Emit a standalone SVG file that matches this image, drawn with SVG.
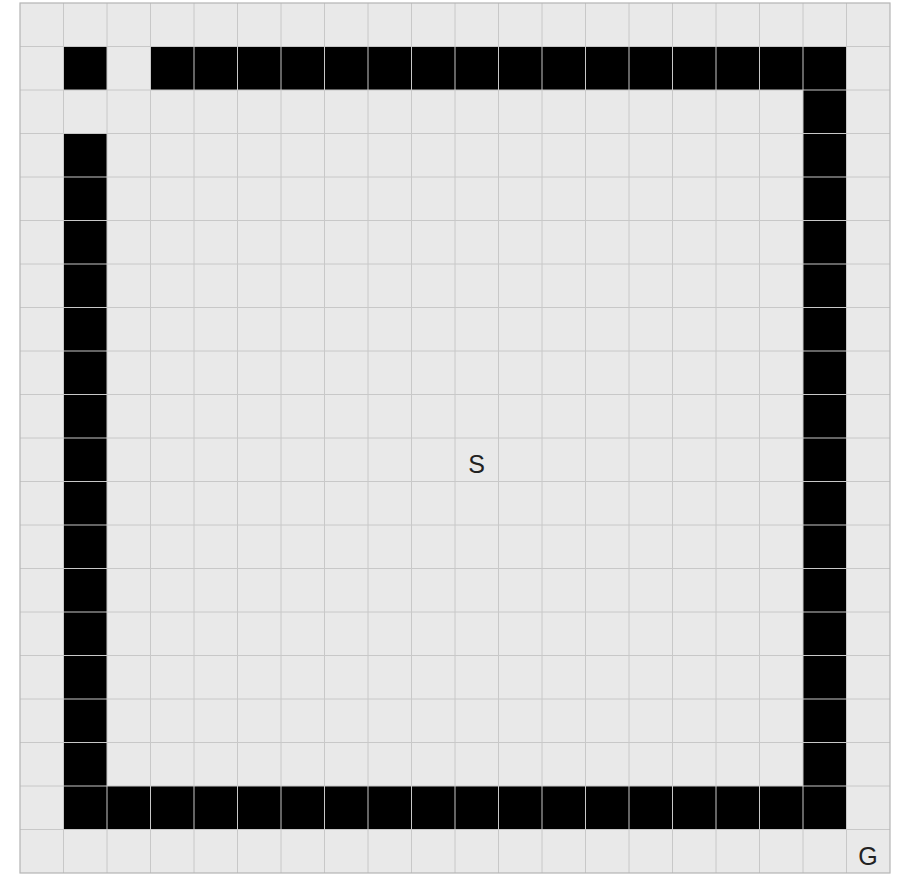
<svg xmlns="http://www.w3.org/2000/svg" width="897" height="875" viewBox="0 0 897 875">
<style>
.bg{fill:#ffffff}
.board{fill:#e9e9e9}
.wall{fill:#000000}
.grid{stroke:#c8c8c8;stroke-width:1;fill:none}
.frame{stroke:#b4b4b4;stroke-width:1.2;fill:none}
.lbl{font-family:"Liberation Sans",Arial,sans-serif;font-size:25px;fill:#222;text-anchor:middle;dominant-baseline:central}
</style>
<defs>
<rect id="c" width="43.5" height="43.5" class="wall"/>
</defs>
<rect class="bg" x="0" y="0" width="897" height="875"/>
<rect class="board" x="20" y="3" width="870" height="870"/>
<g id="walls">
<use href="#c" x="63.5" y="46.5"/>
<path class="wall" d="M150.5 46.5H846.5V90H150.5Z"/>
<path class="wall" d="M803 90H846.5V829.5H803Z"/>
<path class="wall" d="M63.5 133.5H107V786H63.5Z"/>
<path class="wall" d="M63.5 786H846.5V829.5H63.5Z"/>
</g>
<g id="grid">
<path class="grid" d="M63.5 3V873M107 3V873M150.5 3V873M194 3V873M237.5 3V873M281 3V873M324.5 3V873M368 3V873M411.5 3V873M455 3V873M498.5 3V873M542 3V873M585.5 3V873M629 3V873M672.5 3V873M716 3V873M759.5 3V873M803 3V873M846.5 3V873"/>
<path class="grid" d="M20 46.5H890M20 90H890M20 133.5H890M20 177H890M20 220.5H890M20 264H890M20 307.5H890M20 351H890M20 394.5H890M20 438H890M20 481.5H890M20 525H890M20 568.5H890M20 612H890M20 655.5H890M20 699H890M20 742.5H890M20 786H890M20 829.5H890"/>
<rect class="frame" x="20" y="3" width="870" height="870"/>
</g>
<g id="S"><text class="lbl" x="476.5" y="464">S</text></g>
<g id="G"><text class="lbl" x="868" y="856">G</text></g>
</svg>
